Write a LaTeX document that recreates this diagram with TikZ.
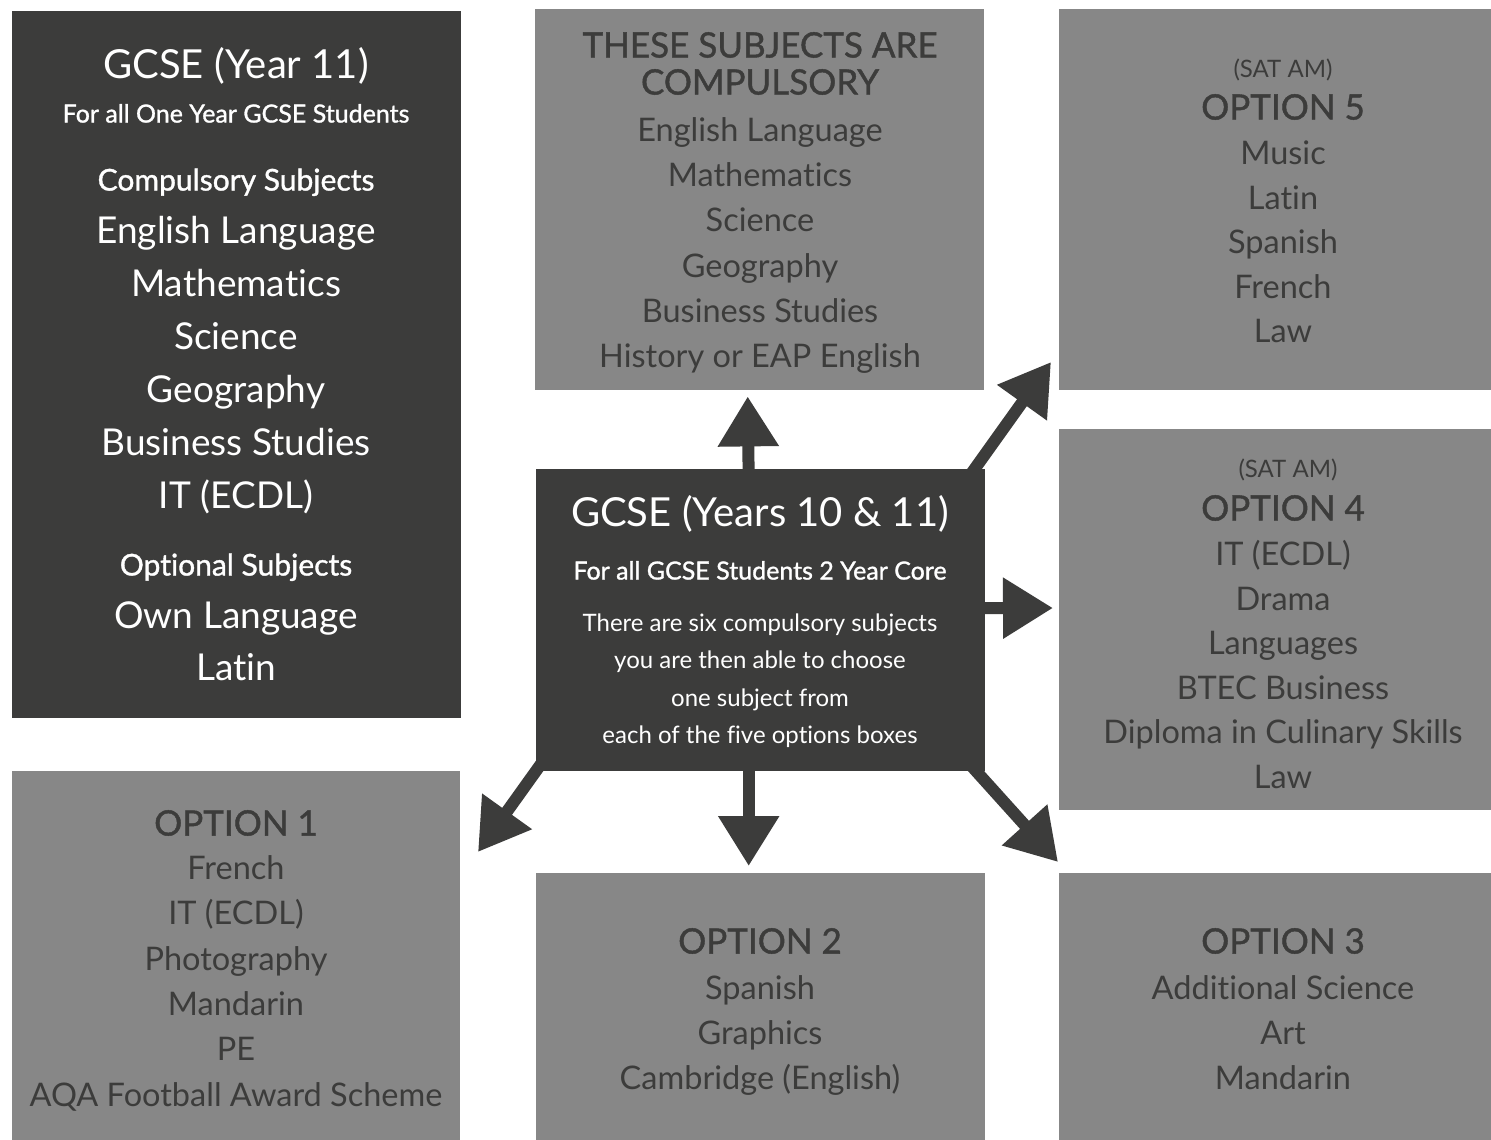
\documentclass[tikz,border=0pt]{standalone}
\usepackage{fontspec}
\setmainfont{Lato}[Ligatures=NoCommon]
\newfontfamily\hdfont{Lato}[FakeBold=1.2,Ligatures=NoCommon]
\usetikzlibrary{arrows.meta,backgrounds}
\definecolor{dk}{HTML}{3C3C3B}
\definecolor{gr}{HTML}{878787}
\tikzset{
  darkbox/.style={fill=dk,draw=none,inner sep=0,anchor=north west},
  graybox/.style={fill=gr,draw=none,inner sep=0,anchor=north west},
  txt/.style={inner sep=0,anchor=mid},
  wbig/.style={txt,text=white,font=\fontsize{40}{44}\selectfont},
  wsub/.style={txt,text=white,font=\hdfont\fontsize{25}{28}\selectfont},
  whd/.style={txt,text=white,font=\hdfont\fontsize{30}{32}\selectfont},
  witem/.style={txt,text=white,font=\fontsize{37}{40}\selectfont},
  wsmall/.style={txt,text=white,font=\fontsize{24}{26}\selectfont},
  ghd/.style={txt,text=dk,font=\hdfont\fontsize{35}{38}\selectfont},
  gsat/.style={txt,text=dk,font=\fontsize{24}{26}\selectfont},
  gitem/.style={txt,text=dk,font=\fontsize{32.5}{36}\selectfont},
  arr/.style={draw=dk,line width=12pt,line cap=butt,-{Triangle[width=58pt,length=50pt]}},
}
\begin{document}
\begin{tikzpicture}[x=1pt,y=-1pt]
\useasboundingbox (0,0) rectangle (1491,1140);
% boxes
\node[darkbox,minimum width=449pt,minimum height=707pt] (y11) at (12,11) {};
\node[graybox,minimum width=449pt,minimum height=381pt] (comp) at (535,9) {};
\node[graybox,minimum width=432pt,minimum height=381pt] (opt5) at (1059,9) {};
\node[graybox,minimum width=432pt,minimum height=381pt] (opt4) at (1059,429) {};
\node[graybox,minimum width=448pt,minimum height=369pt] (opt1) at (12,771) {};
\node[graybox,minimum width=449pt,minimum height=267pt] (opt2) at (536,873) {};
\node[graybox,minimum width=432pt,minimum height=267pt] (opt3) at (1059,873) {};
\node[darkbox,minimum width=449pt,minimum height=302pt] (ctr) at (536,469) {};
% arrows
\coordinate (s-ur) at (966,481);
\coordinate (e-ur) at (1051,362);
\coordinate (s-dl) at (546,757);
\coordinate (e-dl) at (478,852);
\coordinate (s-dr) at (967,761);
\coordinate (e-dr) at (1058,862);
\begin{scope}[on background layer]
\fill[white] (0,0) rectangle (1491,1140);
\draw[arr] ([xshift=-12pt,yshift=-10pt]ctr.north) -- ([xshift=-12pt,yshift=-6pt]comp.south);
\draw[arr] ([xshift=-12pt,yshift=10pt]ctr.south) -- ([xshift=-12pt,yshift=7pt]opt2.north);
\draw[arr] ([xshift=-10pt,yshift=12pt]ctr.east) -- ([xshift=-6pt]opt4.west |- 0,608);
\draw[arr] (s-ur) -- (e-ur);
\draw[arr] (s-dl) -- (e-dl);
\draw[arr] (s-dr) -- (e-dr);
\end{scope}
% left box
\node[wbig] (y11-t) at (236,76) {GCSE (Year 11)};
\node[wsub] (y11-s) at (236,120) {For all One Year GCSE Students};
\node[whd] (y11-c) at (236,188) {Compulsory Subjects};
\foreach \t [count=\i] in {English Language,Mathematics,Science,Geography,Business Studies,IT (ECDL)}
  \node[witem] (y11-\i) at (236,{241+53*(\i-1)}) {\t};
\node[whd] (y11-o) at (236,573) {Optional Subjects};
\node[witem] (y11-o1) at (236,626) {Own Language};
\node[witem] (y11-o2) at (236,678) {Latin};
% compulsory
\node[ghd] (comp-t1) at (760,55) {THESE SUBJECTS ARE};
\node[ghd] (comp-t2) at (760,92) {COMPULSORY};
\foreach \t [count=\i] in {English Language,Mathematics,Science,Geography,Business Studies,History or EAP English}
  \node[gitem] (comp-\i) at (760,{139+45.2*(\i-1)}) {\t};
% option 5
\node[gsat] (opt5-s) at (1283,75) {(SAT AM)};
\node[ghd] (opt5-t) at (1283,117) {OPTION 5};
\foreach \t [count=\i] in {Music,Latin,Spanish,French,Law}
  \node[gitem] (opt5-\i) at (1283,{162+44.6*(\i-1)}) {\t};
% option 4
\node[gsat] (opt4-s) at (1288,475) {(SAT AM)};
\node[ghd] (opt4-t) at (1283,518) {OPTION 4};
\foreach \t [count=\i] in {IT (ECDL),Drama,Languages,BTEC Business,Diploma in Culinary Skills,Law}
  \node[gitem] (opt4-\i) at (1283,{563+44.6*(\i-1)}) {\t};
% option 1
\node[ghd] (opt1-t) at (236,833) {OPTION 1};
\foreach \t [count=\i] in {French,IT (ECDL),Photography,Mandarin,PE,AQA Football Award Scheme}
  \node[gitem] (opt1-\i) at (236,{877+45.3*(\i-1)}) {\t};
% option 2
\node[ghd] (opt2-t) at (760,951) {OPTION 2};
\foreach \t [count=\i] in {Spanish,Graphics,Cambridge (English)}
  \node[gitem] (opt2-\i) at (760,{997+45*(\i-1)}) {\t};
% option 3
\node[ghd] (opt3-t) at (1283,951) {OPTION 3};
\foreach \t [count=\i] in {Additional Science,Art,Mandarin}
  \node[gitem] (opt3-\i) at (1283,{997+45*(\i-1)}) {\t};
% centre
\node[wbig] (ctr-t) at (760,524) {GCSE (Years 10 \& 11)};
\node[wsub] (ctr-s) at (760,577) {For all GCSE Students 2 Year Core};
\foreach \t [count=\i] in {There are six compulsory subjects,you are then able to choose,one subject from,each of the five options boxes}
  \node[wsmall] (ctr-\i) at (760,{629+37.3*(\i-1)}) {\t};
\end{tikzpicture}
\end{document}
